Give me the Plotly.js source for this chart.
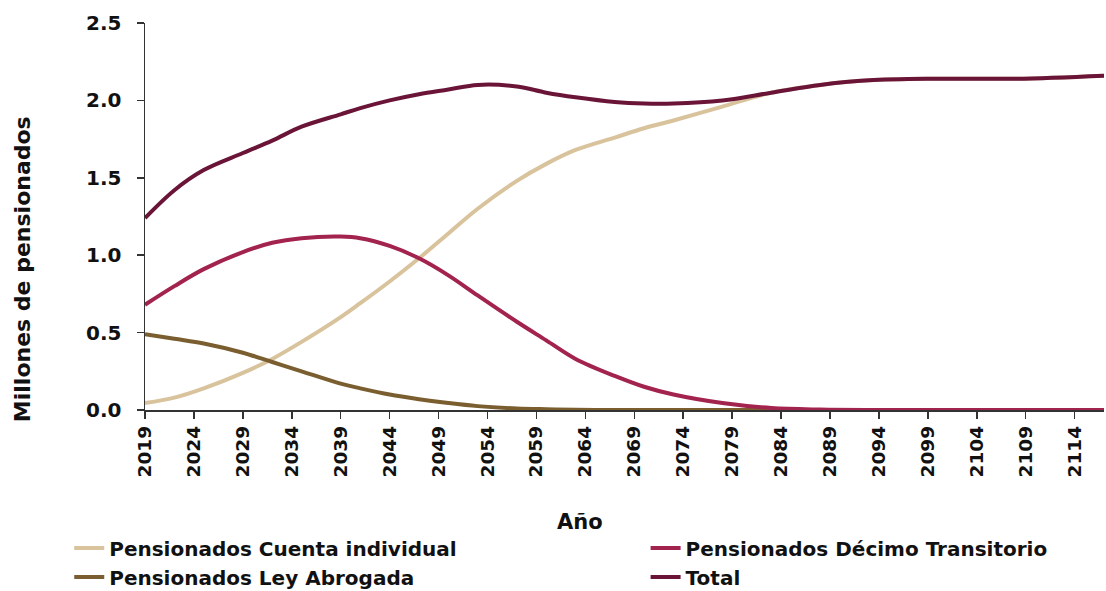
<!DOCTYPE html>
<html>
<head>
<meta charset="utf-8">
<script src="https://cdn.plot.ly/plotly-3.0.1.min.js"></script>
<style>html,body{margin:0;padding:0;background:#fff;}#chart{width:1106px;height:591px;}</style>
</head>
<body>
<div id="chart"></div>
<script>
const years = [2019, 2022, 2025, 2029, 2032, 2035, 2039, 2041, 2044, 2047, 2050, 2053, 2057, 2060, 2063, 2067, 2070, 2073, 2078, 2083, 2088, 2093, 2100, 2108, 2117];
const cuentaIndividual = [0.045, 0.08, 0.14, 0.24, 0.33, 0.44, 0.60, 0.69, 0.83, 0.98, 1.14, 1.30, 1.48, 1.59, 1.68, 1.76, 1.82, 1.87, 1.96, 2.05, 2.10, 2.13, 2.14, 2.14, 2.16];
const decimoTransitorio = [0.68, 0.80, 0.91, 1.02, 1.08, 1.11, 1.12, 1.11, 1.06, 0.98, 0.87, 0.74, 0.57, 0.45, 0.33, 0.22, 0.15, 0.10, 0.045, 0.013, 0.003, 0, 0, 0, 0];
const leyAbrogada = [0.49, 0.46, 0.43, 0.37, 0.31, 0.25, 0.17, 0.14, 0.10, 0.07, 0.045, 0.025, 0.01, 0.005, 0.002, 0, 0, 0, 0, 0, 0, 0, 0, 0, 0];
const total = [1.24, 1.42, 1.55, 1.66, 1.74, 1.83, 1.91, 1.95, 2.00, 2.04, 2.07, 2.10, 2.09, 2.05, 2.02, 1.99, 1.98, 1.98, 2.00, 2.05, 2.10, 2.13, 2.14, 2.14, 2.16];
const tickYears = [2019, 2024, 2029, 2034, 2039, 2044, 2049, 2054, 2059, 2064, 2069, 2074, 2079, 2084, 2089, 2094, 2099, 2104, 2109, 2114];
const yTicks = [0, 0.5, 1.0, 1.5, 2.0, 2.5];
const yTickText = ['0.0', '0.5', '1.0', '1.5', '2.0', '2.5'];
const xTitle = 'Año';
const yTitle = 'Millones de pensionados';

const FONT = 'DejaVu Sans, Arial, sans-serif';
function tr(name, y, color, legend) {
  return {x: years, y: y, name: name, type: 'scatter', mode: 'lines',
    line: {color: color, width: 4, shape: 'spline', smoothing: 1}, legend: legend};
}
const data = [
  tr('Pensionados Cuenta individual', cuentaIndividual, '#d8c39d', 'legend'),
  tr('Pensionados Ley Abrogada', leyAbrogada, '#7a5e30', 'legend'),
  tr('Pensionados Décimo Transitorio', decimoTransitorio, '#a3234f', 'legend2'),
  tr('Total', total, '#6a1538', 'legend2')
];
const legendFont = {family: FONT, size: 20, color: '#111', weight: 'bold'};
const layout = {
  width: 1106, height: 591,
  paper_bgcolor: '#fff', plot_bgcolor: '#fff',
  margin: {l: 145, r: 2, t: 23, b: 181, autoexpand: false},
  font: {family: FONT, color: '#111'},
  showlegend: true,
  xaxis: {
    type: 'linear', range: [2019, 2117],
    tickmode: 'array', tickvals: tickYears, ticktext: tickYears.map(String),
    tickangle: -90, ticks: 'outside', ticklen: 7, tickwidth: 1.5, tickcolor: '#333',
    showline: true, linecolor: '#333', linewidth: 1.5,
    showgrid: false, zeroline: false,
    tickfont: {family: FONT, size: 18.5, color: '#111', weight: 'bold'}
  },
  yaxis: {
    range: [0, 2.5],
    tickmode: 'array', tickvals: yTicks, ticktext: yTickText,
    ticks: 'outside', ticklen: 7, tickwidth: 1.5, tickcolor: '#333',
    showline: true, linecolor: '#333', linewidth: 1.5,
    showgrid: false, zeroline: false,
    ticklabelstandoff: 11,
    tickfont: {family: FONT, size: 20, color: '#111', weight: 'bold'}
  },
  annotations: [
    {text: xTitle, xref: 'paper', yref: 'paper', x: (580 - 145) / 960, y: (410 - 522) / 387,
      xanchor: 'center', yanchor: 'middle', showarrow: false,
      font: {family: FONT, size: 21, color: '#111', weight: 'bold'}},
    {text: yTitle, xref: 'paper', yref: 'paper', x: (22 - 145) / 960, y: (410 - 269) / 387,
      xanchor: 'center', yanchor: 'middle', showarrow: false, textangle: -90,
      font: {family: FONT, size: 22, color: '#111', weight: 'bold'}}
  ],
  legend: {orientation: 'v', x: -0.079, xanchor: 'left', y: -0.306, yanchor: 'top',
    font: legendFont, bgcolor: 'rgba(0,0,0,0)', borderwidth: 0, itemwidth: 30, tracegroupgap: 0},
  legend2: {orientation: 'v', x: 0.522, xanchor: 'left', y: -0.306, yanchor: 'top',
    font: legendFont, bgcolor: 'rgba(0,0,0,0)', borderwidth: 0, itemwidth: 30, tracegroupgap: 0}
};
Plotly.newPlot('chart', data, layout, {displayModeBar: false, staticPlot: true});
</script>
</body>
</html>
